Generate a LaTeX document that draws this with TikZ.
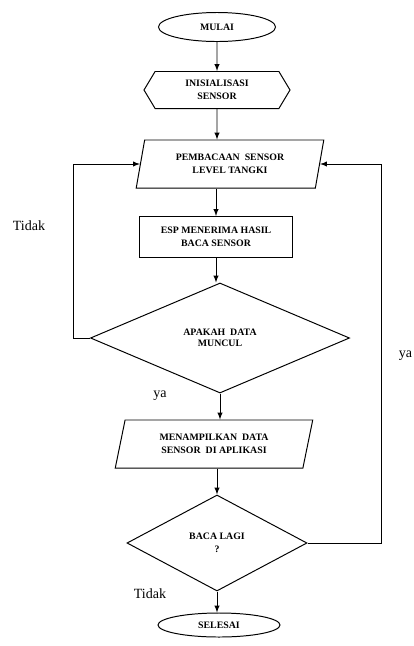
\documentclass[tikz,border=0pt]{standalone}
\usepackage{fontspec}
\setmainfont{Liberation Serif}
\usetikzlibrary{shapes.geometric,shapes.symbols}

\tikzset{
  proses/.style={draw,rectangle,inner sep=1pt,align=center,font=\fontsize{7}{9.5}\selectfont\bfseries},
  ujung/.style={proses,ellipse},
  awal/.style={proses,signal,signal to=west and east,signal pointer angle=118},
  masuk/.style={proses,trapezium,trapezium stretches=true},
  pilih/.style={proses,diamond},
  ket/.style={font=\fontsize{10}{12}\selectfont}
}

\begin{document}
\begin{tikzpicture}[x=0.025cm,y=-0.025cm,line width=0.7pt,>=latex]
          \useasboundingbox (0,0) rectangle (414,646);
          \node[ujung,minimum width=2.925cm,minimum height=0.725cm] (Mulai) at (217,27) {MULAI};
          \node[awal,minimum width=3.65cm,minimum height=0.925cm] (Init) at (217,90) {INISIALISASI\\SENSOR};
          \node[masuk,trapezium left angle=76.5,trapezium right angle=103.5,minimum width=4.7cm,minimum height=1.2cm] (Baca) at (230,164) {PEMBACAAN\ \ SENSOR\\LEVEL TANGKI};
          \node[proses,minimum width=3.825cm,minimum height=1.025cm] (Esp) at (216,237) {ESP MENERIMA HASIL\\BACA SENSOR};
          \node[pilih,minimum width=6.475cm,minimum height=2.75cm] (Cek) at (220,338) {\raisebox{-8pt}{\shortstack{APAKAH\ \ DATA\\MUNCUL}}};
          \node[masuk,trapezium left angle=74.8,trapezium right angle=105.2,minimum width=4.95cm,minimum height=1.2cm] (Tampil) at (214,444) {MENAMPILKAN\ \ DATA\\SENSOR\ \ DI APLIKASI};
          \node[pilih,minimum width=4.5cm,minimum height=2.4cm] (Lagi) at (217,543) {BACA LAGI\\?};
          \node[ujung,minimum width=3.05cm,minimum height=0.6cm] (Selesai) at (219,625) {SELESAI};
          \path[->] (Mulai) edge (Init);
          \path[->] (Init) edge (Init |- Baca.north);
          \path[->] (Baca.south -| Esp) edge (Esp);
          \path[->] (Esp) edge (Esp |- Cek.north);
          \path[->] (Cek) edge (Cek |- Tampil.north);
          \path[->] (Tampil.south -| Lagi) edge (Lagi);
          \path[->] (Lagi) edge (Lagi |- Selesai.north);
          \draw[->] (Cek.west) -- ++(-16,0) |- (Baca);
          \draw[->] (Lagi.east) -- ++(74,0) |- (Baca);
          \node[ket] (Tidak1) at (29,226) {Tidak};
          \node[ket] (Ya1) at (160,396) {ya};
          \node[ket,anchor=east,inner sep=1pt] (Ya2) at (414,356) {ya};
          \node[ket] (Tidak2) at (150,594) {Tidak};
        \end{tikzpicture}
\end{document}
